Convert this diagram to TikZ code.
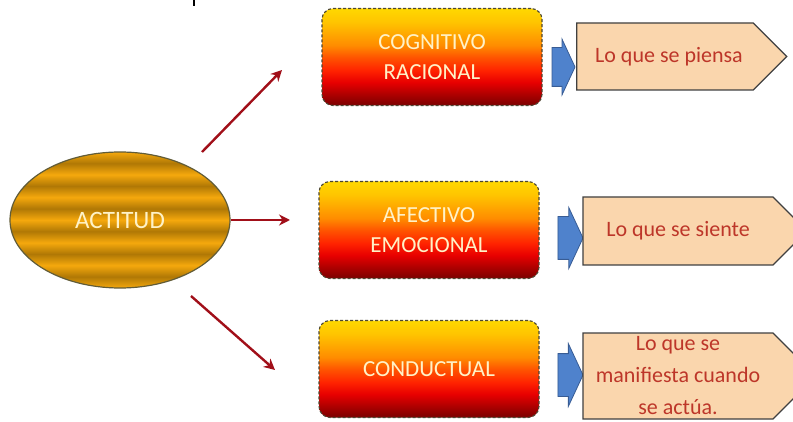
\documentclass[tikz,border=0pt]{standalone}
\usepackage{fontspec}
\setmainfont{Carlito}
\usepackage{xcolor}
\definecolor{ActOrange}{rgb}{0.96, 0.66, 0.05}
\definecolor{ActDark}{rgb}{0.69, 0.47, 0.02}
\definecolor{ActBorder}{rgb}{0.38, 0.36, 0.22}
\definecolor{BoxText}{rgb}{1.0, 0.95, 0.78}
\definecolor{BoxBorder}{rgb}{0.30, 0.28, 0.20}
\definecolor{LinkRed}{rgb}{0.63, 0.06, 0.10}
\definecolor{HintBlue}{rgb}{0.31, 0.51, 0.80}
\definecolor{HintBlueDark}{rgb}{0.22, 0.36, 0.58}
\definecolor{NotePeach}{rgb}{0.98, 0.84, 0.68}
\definecolor{NoteBorder}{rgb}{0.25, 0.25, 0.25}
\definecolor{NoteText}{rgb}{0.74, 0.21, 0.16}
\usepackage{tikz}
\usetikzlibrary{positioning,shapes.geometric,shapes.symbols,shapes.arrows,arrows.meta}
\pgfdeclareverticalshading{actstripes}{100bp}{color(0bp)=(ActOrange); color(25bp)=(ActOrange); color(29.17bp)=(ActDark); color(33.33bp)=(ActOrange); color(37.5bp)=(ActDark); color(41.67bp)=(ActOrange); color(45.83bp)=(ActDark); color(50bp)=(ActOrange); color(54.17bp)=(ActDark); color(58.33bp)=(ActOrange); color(62.5bp)=(ActDark); color(66.67bp)=(ActOrange); color(70.83bp)=(ActDark); color(75bp)=(ActOrange); color(100bp)=(ActOrange)}
\pgfdeclareverticalshading{firebands}{100bp}{color(0bp)=(rgb,255:red,122;green,0;blue,0); color(25bp)=(rgb,255:red,122;green,0;blue,0); color(31bp)=(rgb,255:red,176;green,0;blue,0); color(37bp)=(rgb,255:red,232;green,0;blue,0); color(43bp)=(rgb,255:red,255;green,34;blue,0); color(50bp)=(rgb,255:red,255;green,85;blue,0); color(56bp)=(rgb,255:red,255;green,140;blue,0); color(62bp)=(rgb,255:red,255;green,168;blue,0); color(68bp)=(rgb,255:red,255;green,196;blue,0); color(75bp)=(rgb,255:red,255;green,216;blue,0); color(100bp)=(rgb,255:red,255;green,216;blue,0)}
\tikzset{
	attitude/.style={ellipse, shading=actstripes, draw=ActBorder, line width=1.2pt, minimum width=220, minimum height=136, inner sep=0pt, text=BoxText, font=\fontsize{25}{30}\selectfont},
	component/.style={rectangle, rounded corners=11pt, shading=firebands, draw=BoxBorder, densely dashed, line width=1.1pt, minimum width=220, minimum height=97, inner sep=0pt, align=center, text=BoxText, font=\fontsize{23}{30}\selectfont},
	hint/.style={single arrow, single arrow head extend=8.5, single arrow tip angle=130, fill=HintBlue, draw=HintBlueDark, line width=0.8pt, minimum height=23, inner xsep=0pt, inner ysep=19pt},
	meaning/.style={signal, signal to=east, signal from=nowhere, signal pointer angle=90, fill=NotePeach, draw=NoteBorder, line width=1.2pt, inner sep=0pt, align=center, text=NoteText, font=\fontsize{22}{32}\selectfont},
	link/.style={draw=LinkRed, line width=2.4pt, -{Stealth[length=11pt,width=11pt]}}
}

\begin{document}
\begin{tikzpicture}[x=1pt, y=-1pt]
	\useasboundingbox[fill=white] (0,0) rectangle (793,422);
	\draw[line width=2pt] (194,0) -- (194,6);
	\node[attitude] (act) at (120,220) {ACTITUD};
	\node[component] (cog) at (432,57) {COGNITIVO\\RACIONAL};
	\node[component] (afe) at (429,230) {AFECTIVO\\EMOCIONAL};
	\node[component] (con) at (429,369) {CONDUCTUAL};
	\node[hint] (h1) at (559,67) {};
	\node[hint, minimum height=25, inner ysep=21pt, single arrow head extend=9] (h2) at (565.5,238) {};
	\node[hint, minimum height=25, inner ysep=21pt, single arrow head extend=10] (h3) at (565.5,375) {};
	\node[meaning, minimum width=210, minimum height=67] (m1) at (665,56.5) {\hspace*{8pt}Lo que se piensa};
	\node[meaning, minimum width=224, minimum height=68] (m2) at (678,231) {Lo que se siente};
	\node[meaning, minimum width=233, minimum height=86] (m3) at (678,376) {Lo que se\\manifiesta cuando\\se actúa.};
	\coordinate (l1s) at (202,152);
	\coordinate (l1e) at (282,70);
	\coordinate (l2e) at (290,220);
	\coordinate (l3s) at (191,296);
	\coordinate (l3e) at (275,370);
	\draw[link] (l1s) -- (l1e);
	\draw[link] (act.east) -- (l2e);
	\draw[link] (l3s) -- (l3e);
\end{tikzpicture}
\end{document}
